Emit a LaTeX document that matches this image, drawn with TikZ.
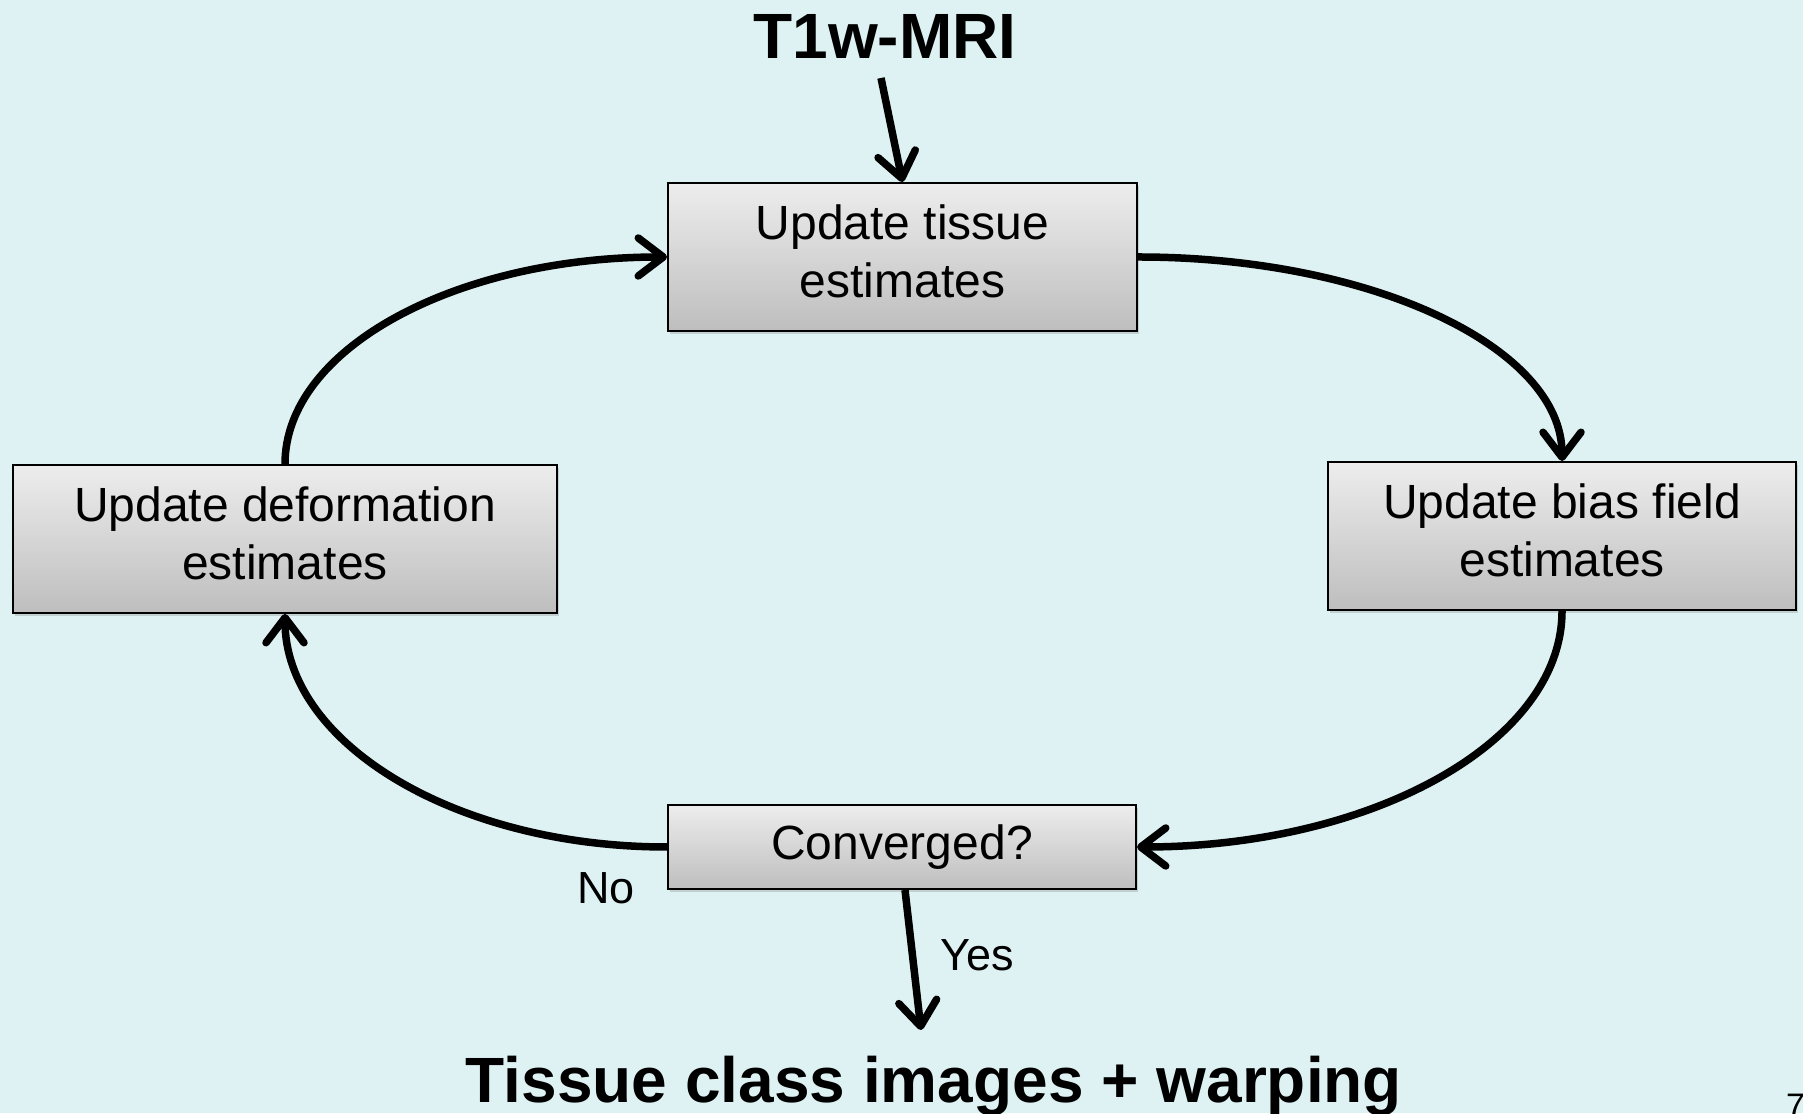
\documentclass[tikz,border=0pt]{standalone}
\usepackage{fontspec}
\setmainfont{Liberation Sans}
\usetikzlibrary{arrows.meta,shadows}
\definecolor{bg}{RGB}{222,242,243}
\definecolor{boxtop}{RGB}{237,237,237}
\definecolor{boxbot}{RGB}{190,190,190}
\newcommand{\twolines}[2]{\raisebox{6pt}{\begin{tabular}{@{}c@{}}#1\\#2\end{tabular}}}
\begin{document}
\begin{tikzpicture}[x=1pt,y=1pt,
  box/.style={draw=black, line width=2pt, top color=boxtop, bottom color=boxbot,
    drop shadow={shadow xshift=2pt,shadow yshift=-3pt,opacity=0.3},
    font=\fontsize{48}{58}\selectfont, align=center, inner sep=0pt},
  flow/.style={line width=7.5pt, -{Straight Barb[length=25pt,width=38pt,line cap=round,line join=round]}},
  lbl/.style={font=\fontsize{45}{50}\selectfont, inner sep=0pt},
  big/.style={font=\fontsize{64}{70}\selectfont\bfseries, inner sep=0pt}
]
\fill[bg] (0,0) rectangle (1803,1113);
\useasboundingbox (0,0) rectangle (1803,1113);

\node[box, minimum width=469pt, minimum height=148pt] (tissue) at (902.5,856) {\twolines{Update tissue}{estimates}};
\node[box, minimum width=544pt, minimum height=148pt] (deform) at (285,574) {\twolines{Update deformation}{estimates}};
\node[box, minimum width=468pt, minimum height=148pt] (bias) at (1562,577) {\twolines{Update bias field}{estimates}};
\node[box, minimum width=468pt, minimum height=84pt] (conv) at (902,266) {Converged?};

\node[big, anchor=base] (t1) at (885,1054) {T1w-MRI};
\node[big, anchor=base] (out) at (934,11) {Tissue class images + warping};
\node[lbl] (no) at (606,225) {No};
\node[lbl] (yes) at (977,158) {Yes};
\node[font=\fontsize{34}{40}\selectfont, inner sep=0pt, anchor=north west] (pg) at (1786,19) {7};

\coordinate (t1start) at (881,1035);
\coordinate (yesend) at (921,83);

\draw[flow] (t1start) -- (tissue.north);
\draw[flow] (conv.south) ++(3,0) coordinate (convs) (convs) -- (yesend);
\draw[flow] (tissue.east) to[out=0,in=90,out distance=235pt,in distance=113pt] (bias.north);
\draw[flow] (bias.south) to[out=-90,in=0,out distance=131pt,in distance=235pt] (conv.east);
\draw[flow] (conv.west) to[out=180,in=-90,out distance=212pt,in distance=129pt] (deform.south);
\draw[flow] (deform.north) to[out=90,in=180,out distance=115pt,in distance=212pt] (tissue.west);
\end{tikzpicture}
\end{document}
